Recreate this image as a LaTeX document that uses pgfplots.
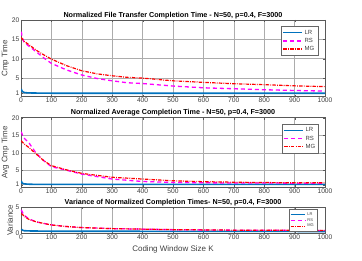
\documentclass[border=0pt]{standalone}
\usepackage{pgfplots}
\pgfplotsset{compat=1.18}
\usepackage{fontspec}
\setmainfont{Liberation Sans}
\definecolor{lrblue}{rgb}{0,0.447,0.741}
\definecolor{rsmag}{rgb}{1,0,1}
\definecolor{mgred}{rgb}{1,0,0}
\pgfplotsset{
  mystyle/.style={
    scale only axis, width=304pt,
    xmin=0, xmax=1000, xtick={0,100,...,1000},
    grid=major, major grid style={gray!65, line width=0.6pt},
    axis line style={gray!70!black, line width=0.5pt},
    tick align=inside, major tick length=2pt,
    tick style={gray!70!black},
    /pgf/number format/assume math mode=true,
    /pgf/number format/1000 sep={},
    tick label style={font=\fontsize{6.7}{7}\selectfont, text=black!75},
    xticklabel style={inner sep=1pt},
    yticklabel style={inner sep=1.5pt},
    ylabel style={font=\fontsize{8}{9}\selectfont, text=black!75, inner sep=1pt},
    xlabel style={font=\fontsize{8}{9}\selectfont, text=black!75, inner sep=1pt, yshift=-4pt},
    title style={font=\fontsize{7.2}{8}\selectfont\bfseries, inner sep=1pt, at={(0.5,1)}, anchor=south, yshift=-6pt},
    legend cell align=left,
    legend image code/.code={\draw[##1] (0cm,0cm) -- (0.65cm,0cm);},
    legend style={draw=gray!80!black, fill=white, text=black!75, line width=0.5pt},
  },
  shortleg/.style={legend image code/.code={\draw[##1,line width=1pt] (0cm,0cm) -- (0.5cm,0cm);}},
  lr/.style={color=lrblue, line width=1.6pt, solid},
  rs/.style={color=rsmag, line width=1.3pt, dash pattern=on 4pt off 3pt},
  mg/.style={color=mgred, line width=1.2pt, dash pattern=on 3.5pt off 1.2pt on 0.8pt off 1.2pt},
}
\begin{document}
\begin{tikzpicture}
\useasboundingbox (0,0) rectangle (362pt,-261pt);
% ---------- Plot 1 ----------
\begin{axis}[mystyle, at={(21pt,-96.7pt)}, anchor=south west, height=76.7pt,
  ymin=0.2, ymax=20, ytick={1,5,10,15,20},
  ylabel={Cmp Time},
  title={Normalized File Transfer Completion Time - N=50, p=0.4, F=3000},
  legend style={at={(0.977,0.92)}, anchor=north east, font=\fontsize{6}{6}\selectfont, row sep=-1.5pt, inner sep=1.5pt}]
\addplot[lr] coordinates {(1,2.2) (3,1.7) (5,1.5) (10,1.3) (20,1.2) (40,1.15) (100,1.1) (1000,1.1)};
\addplot[rs] coordinates {(1,17.0) (3,16.0) (5,15.3) (10,14.3) (25,13.3) (50,11.8) (75,10.2) (100,8.8) (150,7.1) (200,5.8) (250,4.9) (300,4.3) (350,3.8) (400,3.6) (500,2.95) (600,2.5) (700,2.25) (800,2.0) (900,1.8) (1000,1.65)};
\addplot[mg] coordinates {(1,15.5) (5,15.0) (10,14.5) (25,13.7) (50,12.2) (75,11.0) (100,9.9) (150,8.2) (200,6.9) (250,6.1) (300,5.6) (350,5.2) (400,5.0) (500,4.3) (600,3.9) (700,3.55) (800,3.3) (900,3.0) (1000,2.8)};
\legend{LR,RS,MG}
\end{axis}
% ---------- Plot 2 ----------
\begin{axis}[mystyle, at={(21pt,-187.5pt)}, anchor=south west, height=69.8pt,
  ymin=0.2, ymax=20, ytick={1,5,10,15,20},
  ylabel={Avg Cmp Time},
  title={Normalized Average Completion Time - N=50, p=0.4, F=3000},
  legend style={at={(0.98,0.91)}, anchor=north east, font=\fontsize{6}{6}\selectfont, row sep=-1.5pt, inner sep=1.5pt}]
\addplot[lr] coordinates {(1,2.1) (3,1.6) (5,1.4) (10,1.25) (20,1.15) (40,1.1) (100,1.1) (1000,1.1)};
\addplot[rs] coordinates {(1,16.0) (5,15.0) (10,14.2) (25,13.0) (50,9.9) (75,7.8) (100,6.1) (150,5.1) (200,4.0) (300,2.6) (400,1.9) (500,1.65) (600,1.55) (700,1.45) (800,1.5) (900,1.4) (1000,1.4)};
\addplot[mg] coordinates {(1,13.5) (5,13.0) (10,12.6) (25,11.6) (50,9.7) (75,7.8) (100,6.4) (150,5.2) (200,4.2) (300,3.1) (400,2.6) (500,2.1) (600,1.85) (700,1.7) (800,1.6) (900,1.55) (1000,1.55)};
\legend{LR,RS,MG}
\end{axis}
% ---------- Plot 3 ----------
\begin{axis}[mystyle, shortleg, at={(21pt,-233.3pt)}, anchor=south west, height=26pt,
  ymin=0, ymax=5, ytick={0,5},
  ylabel={Variance},
  xlabel={Coding Window Size K},
  title={Variance of Normalized Completion Times- N=50, p=0.4, F=3000},
  legend style={at={(0.974,0.92)}, anchor=north east, font=\fontsize{4}{4}\selectfont, row sep=-2.5pt, inner sep=1pt}]
\addplot[lr] coordinates {(1,0.8) (5,0.6) (10,0.5) (30,0.45) (100,0.4) (1000,0.35)};
\addplot[rs] coordinates {(1,4.5) (5,4.0) (10,3.5) (25,2.8) (50,2.2) (100,1.6) (150,1.3) (200,1.1) (300,0.9) (400,0.8) (500,0.7) (700,0.6) (1000,0.55)};
\addplot[mg] coordinates {(1,3.8) (5,3.6) (10,3.3) (25,2.7) (50,2.2) (100,1.6) (150,1.3) (200,1.1) (300,0.9) (400,0.8) (500,0.7) (700,0.6) (1000,0.55)};
\legend{LR,RS,MG}
\node[anchor=south west, font=\fontsize{5}{5}\selectfont, text=black!75, inner sep=0.5pt] at (rel axis cs:0,1) {$\times10^{-5}$};
\end{axis}
\end{tikzpicture}
\end{document}
